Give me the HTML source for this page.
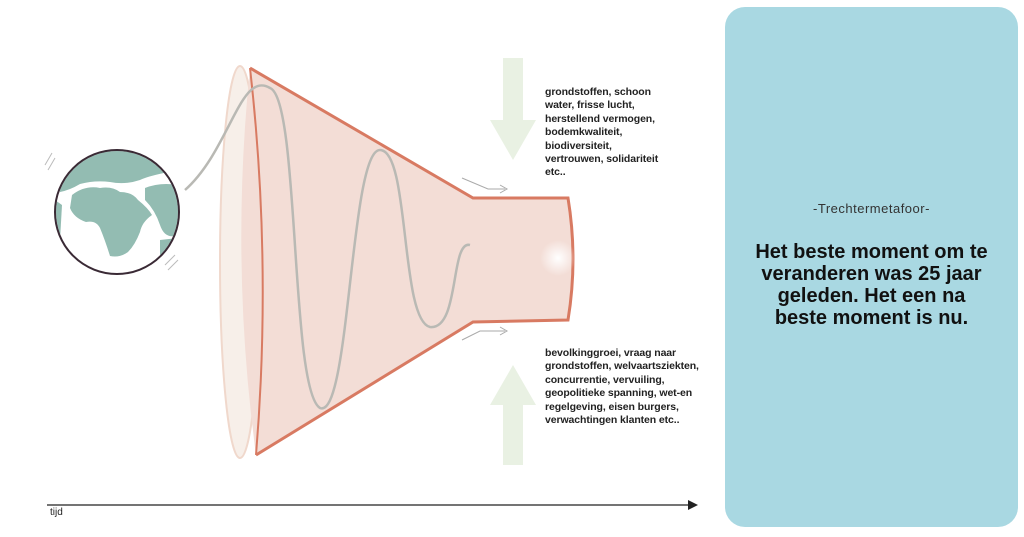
<!DOCTYPE html>
<html><head><style>
body{margin:0;width:1024px;height:537px;background:#fff;position:relative;overflow:hidden;font-family:"Liberation Sans",sans-serif}
.list{position:absolute;left:545px;font-size:10.5px;line-height:13.4px;font-weight:bold;color:#222;letter-spacing:-0.1px}
.panel{position:absolute;left:725px;top:7px;width:293px;height:520px;background:#a9d8e2;border-radius:20px}
</style></head><body>
<svg width="1024" height="537" style="position:absolute;left:0;top:0">
<defs><radialGradient id="g"><stop offset="0" stop-color="#fff"/><stop offset="1" stop-color="#fff" stop-opacity="0"/></radialGradient>
<clipPath id="c"><circle cx="117" cy="212" r="61"/></clipPath></defs>
<ellipse cx="240" cy="262" rx="20" ry="196" fill="#f7efe9" stroke="#f0d8cc" stroke-width="2"/>
<path d="M250 68 L473 198 L568 198 Q578 259 568 320 L473 322 L256 455 Q230 262 250 68Z" fill="#f3ddd6"/>
<path d="M250 68 L473 198 L568 198 Q578 259 568 320 L473 322 L256 455" fill="none" stroke="#d87a62" stroke-width="3"/>
<path d="M250 68 Q272 262 256 455" fill="none" stroke="#d87a62" stroke-width="2"/>
<path d="M185 190 C230 150 240 70 270 88 C300 100 290 390 320 408 C350 420 350 150 380 150 C410 150 400 320 430 327 C460 330 450 240 470 245" fill="none" stroke="#b9b9b4" stroke-width="2.5"/>
<circle cx="558" cy="258" r="18" fill="url(#g)"/>
<path d="M462 178 L488 189 L505 189 M500 185 L507 189 L500 193" fill="none" stroke="#aaa" stroke-width="1"/>
<path d="M462 340 L480 331 L505 331 M500 327 L507 331 L500 335" fill="none" stroke="#aaa" stroke-width="1"/>
<g clip-path="url(#c)" fill="#93bcb2">
<path d="M55 150 L180 150 L180 170 Q150 175 140 180 Q125 185 110 182 Q95 180 80 184 Q70 190 60 192 Z"/>
<path d="M72 195 Q85 185 100 188 Q112 186 120 192 Q132 192 138 200 Q148 208 152 215 Q142 222 140 232 Q135 245 128 252 Q120 258 110 256 Q105 240 100 228 Q96 220 86 222 Q74 218 70 208 Z"/>
<path d="M145 188 Q160 182 178 185 L178 235 Q165 240 160 225 Q155 210 145 200 Z"/>
<path d="M160 240 L178 238 L178 260 L160 260 Z"/>
<path d="M55 200 L62 205 L60 240 L55 240 Z"/>
</g>
<circle cx="117" cy="212" r="62" fill="none" stroke="#3a2a35" stroke-width="2"/>
<path d="M45 165 L52 153 M48 170 L55 158 M165 265 L175 255 M168 270 L178 260" stroke="#bbb" stroke-width="1"/>
<rect x="503" y="58" width="20" height="65" fill="#e9f1e3"/>
<polygon points="490,120 536,120 513,160" fill="#e9f1e3"/>
<polygon points="490,405 536,405 513,365" fill="#e9f1e3"/>
<rect x="503" y="403" width="20" height="62" fill="#e9f1e3"/>
<line x1="47" y1="505" x2="690" y2="505" stroke="#222" stroke-width="1.2"/>
<polygon points="688,500 698,505 688,510" fill="#222"/>
<text x="50" y="515" font-size="10" font-family="Liberation Sans" fill="#222">tijd</text>
</svg>
<div class="list" style="top:86px">grondstoffen, schoon<br>water, frisse lucht,<br>herstellend vermogen,<br>bodemkwaliteit,<br>biodiversiteit,<br>vertrouwen, solidariteit<br>etc..</div>
<div class="list" style="top:347px">bevolkinggroei, vraag naar<br>grondstoffen, welvaartsziekten,<br>concurrentie, vervuiling,<br>geopolitieke spanning, wet-en<br>regelgeving, eisen burgers,<br>verwachtingen klanten etc..</div>
<div class="panel">
<div style="position:absolute;top:194px;width:100%;text-align:center;font-size:13px;color:#333;letter-spacing:0.5px">-Trechtermetafoor-</div>
<div style="position:absolute;top:234px;left:0;width:100%;text-align:center;font-size:20px;font-weight:bold;line-height:22px;color:#111">Het beste moment om te<br>veranderen was 25 jaar<br>geleden. Het een na<br>beste moment is nu.</div>
</div>
</body></html>
